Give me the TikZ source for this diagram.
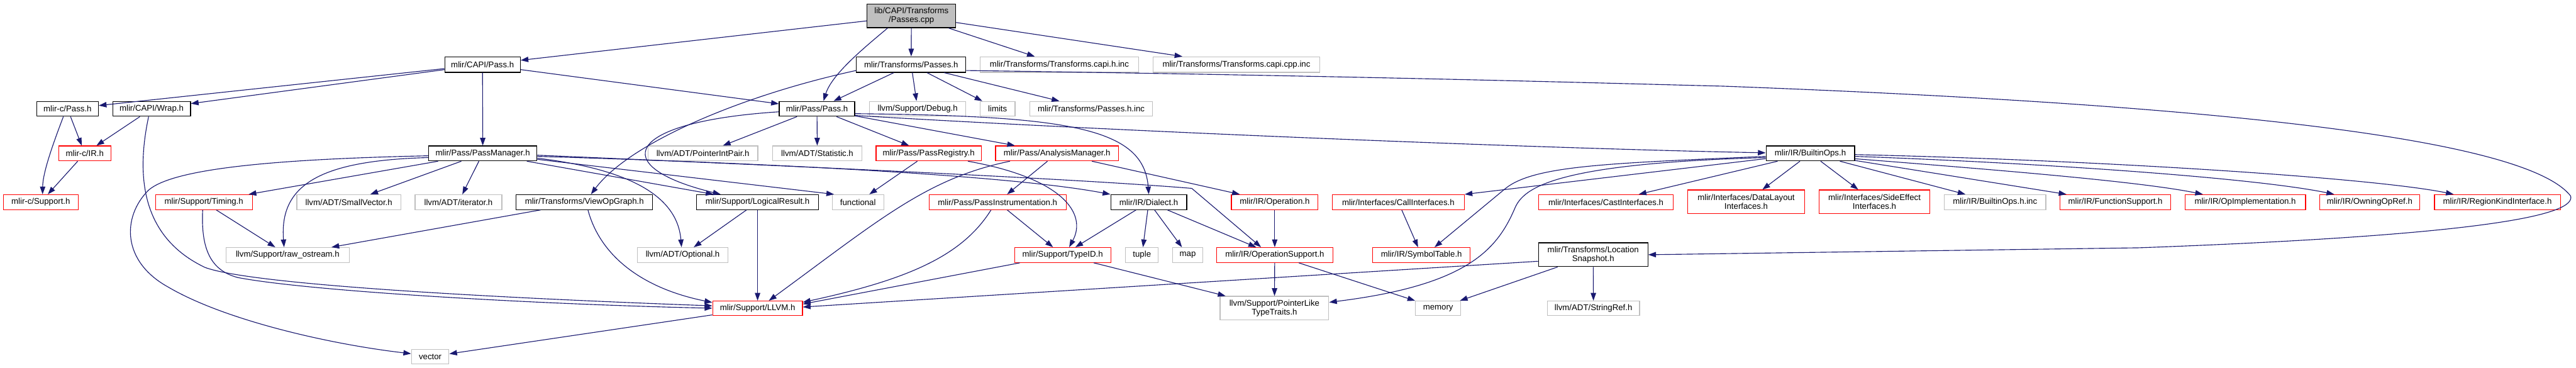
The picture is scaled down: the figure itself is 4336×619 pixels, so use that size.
\documentclass[tikz,border=0pt]{standalone}
\usepackage{fontspec}
\setmainfont{Liberation Sans}
\usetikzlibrary{arrows.meta,calc}
\definecolor{edgeblue}{HTML}{191970}
\definecolor{nodegray}{HTML}{BFBFBF}
\definecolor{nodered}{HTML}{FF0000}
\tikzset{
  box/.style={draw, line width=1.3pt, inner sep=0pt, align=center, anchor=north west, font=\fontsize{14}{15.5}\selectfont, fill=white},
  docbox/.style={box, draw=black},
  rootbox/.style={box, draw=black, fill=nodegray},
  extbox/.style={box, draw=nodegray},
  trunbox/.style={box, draw=nodered},
  dep/.style={draw=edgeblue, line width=1.2pt, -{Triangle[length=13pt,width=9pt]}}
}
\newcommand{\gnode}[7]{\node[#1, minimum width={#5-#3}, minimum height={#6-#4}] (#2) at (#3,#4) {#7};}
\begin{document}
\begin{tikzpicture}[x=1pt,y=-1pt]
\useasboundingbox (0,0) rectangle (4336,619);
% row 1
\gnode{rootbox}{root}{1459}{6}{1608}{46}{lib/CAPI/Transforms\\/Passes.cpp}
% row 2
\gnode{docbox}{capipass}{748}{95}{875}{121}{mlir/CAPI/Pass.h}
\gnode{docbox}{tpasses}{1441}{95}{1625}{121}{mlir/Transforms/Passes.h}
\gnode{extbox}{capihinc}{1649}{95}{1916}{121}{mlir/Transforms/Transforms.capi.h.inc}
\gnode{extbox}{capicppinc}{1940}{95}{2221}{121}{mlir/Transforms/Transforms.capi.cpp.inc}
% row 3
\gnode{docbox}{cpass}{61}{170}{165}{195}{mlir-c/Pass.h}
\gnode{docbox}{wrap}{189}{170}{320}{195}{mlir/CAPI/Wrap.h}
\gnode{docbox}{passh}{1311}{170}{1438}{195}{mlir/Pass/Pass.h}
\gnode{extbox}{debug}{1463}{170}{1625}{195}{llvm/Support/Debug.h}
\gnode{extbox}{limits}{1649}{170}{1708}{195}{limits}
\gnode{extbox}{passesinc}{1733}{170}{1939}{195}{mlir/Transforms/Passes.h.inc}
% row 4
\gnode{trunbox}{cir}{98}{245}{186}{270}{mlir-c/IR.h}
\gnode{docbox}{pm}{721}{245}{903}{270}{mlir/Pass/PassManager.h}
\gnode{extbox}{pip}{1090}{245}{1275}{270}{llvm/ADT/PointerIntPair.h}
\gnode{extbox}{stat}{1300}{245}{1450}{270}{llvm/ADT/Statistic.h}
\gnode{trunbox}{preg}{1474}{245}{1651}{270}{mlir/Pass/PassRegistry.h}
\gnode{trunbox}{am}{1675}{245}{1882}{270}{mlir/Pass/AnalysisManager.h}
\gnode{docbox}{bops}{2972}{245}{3121}{270}{mlir/IR/BuiltinOps.h}
% row 5
\gnode{trunbox}{csupport}{5}{327}{131}{352}{mlir-c/Support.h}
\gnode{trunbox}{timing}{261}{327}{424}{352}{mlir/Support/Timing.h}
\gnode{extbox}{smallvec}{499}{327}{674}{352}{llvm/ADT/SmallVector.h}
\gnode{extbox}{iter}{698}{327}{844}{352}{llvm/ADT/iterator.h}
\gnode{docbox}{viewop}{868}{327}{1098}{352}{mlir/Transforms/ViewOpGraph.h}
\gnode{docbox}{logres}{1172}{327}{1377}{352}{mlir/Support/LogicalResult.h}
\gnode{extbox}{functional}{1400}{327}{1487}{352}{functional}
\gnode{trunbox}{pinstr}{1563}{327}{1794}{352}{mlir/Pass/PassInstrumentation.h}
\gnode{docbox}{dialect}{1869}{327}{1997}{352}{mlir/IR/Dialect.h}
\gnode{trunbox}{operation}{2072}{327}{2218}{352}{mlir/IR/Operation.h}
\gnode{trunbox}{callif}{2242}{327}{2464}{352}{mlir/Interfaces/CallInterfaces.h}
\gnode{trunbox}{castif}{2589}{327}{2816}{352}{mlir/Interfaces/CastInterfaces.h}
\gnode{trunbox}{dlif}{2840}{319}{3037}{359}{mlir/Interfaces/DataLayout\\Interfaces.h}
\gnode{trunbox}{seif}{3061}{319}{3248}{359}{mlir/Interfaces/SideEffect\\Interfaces.h}
\gnode{extbox}{bopsinc}{3272}{327}{3443}{352}{mlir/IR/BuiltinOps.h.inc}
\gnode{trunbox}{funcsup}{3467}{327}{3653}{352}{mlir/IR/FunctionSupport.h}
\gnode{trunbox}{opimpl}{3677}{327}{3880}{352}{mlir/IR/OpImplementation.h}
\gnode{trunbox}{owning}{3904}{327}{4072}{352}{mlir/IR/OwningOpRef.h}
\gnode{trunbox}{regkind}{4097}{327}{4309}{352}{mlir/IR/RegionKindInterface.h}
% row 6
\gnode{extbox}{rawos}{380}{416}{587}{441}{llvm/Support/raw\_ostream.h}
\gnode{extbox}{optional}{1072}{416}{1225}{441}{llvm/ADT/Optional.h}
\gnode{trunbox}{typeid}{1707}{416}{1869}{441}{mlir/Support/TypeID.h}
\gnode{extbox}{tuple}{1894}{416}{1949}{441}{tuple}
\gnode{extbox}{map}{1973}{416}{2024}{441}{map}
\gnode{trunbox}{opsupport}{2047}{416}{2243}{441}{mlir/IR/OperationSupport.h}
\gnode{trunbox}{symtab}{2310}{416}{2474}{441}{mlir/IR/SymbolTable.h}
\gnode{docbox}{locsnap}{2589}{408}{2773}{448}{mlir/Transforms/Location\\Snapshot.h}
% row 7
\gnode{trunbox}{llvmh}{1199}{506}{1350}{530}{mlir/Support/LLVM.h}
\gnode{extbox}{ptrlike}{2053}{498}{2236}{538}{llvm/Support/PointerLike\\TypeTraits.h}
\gnode{extbox}{memory}{2382}{506}{2458}{530}{memory}
\gnode{extbox}{strref}{2604}{506}{2759}{530}{llvm/ADT/StringRef.h}
% row 8
\gnode{extbox}{vector}{692}{587}{755}{612}{vector}

% ---- edges ----
% root
\draw[dep] (root) -- (capipass);
\draw[dep] ([xshift=35pt]root.south west) .. controls (1455,80) and (1400,125) .. ([xshift=11pt]passh.north);
\draw[dep] (root) -- (tpasses);
\draw[dep] (root) -- (capihinc);
\draw[dep] (root) -- (capicppinc);
% capipass
\draw[dep] (capipass) -- (cpass);
\draw[dep] (capipass) -- (wrap);
\draw[dep] (capipass) -- (pm);
\draw[dep] (capipass) -- (passh);
% cpass, wrap, cir
\draw[dep] (cpass) -- (cir);
\draw[dep] ([xshift=-7pt]cpass.south) .. controls (90,240) and (72,290) .. ([xshift=3pt]csupport.north);
\draw[dep] (wrap) -- (cir);
\draw[dep] ([xshift=-5pt]wrap.south) .. controls (228,300) and (240,400) .. (345,450) .. controls (420,478) and (800,500) .. ([yshift=4pt]llvmh.west);
\draw[dep] (cir) -- (csupport);
% pm
\draw[dep] (pm) -- (timing);
\draw[dep] (pm) -- (smallvec);
\draw[dep] (pm) -- (iter);
\draw[dep] ([yshift=-4pt]pm.west) .. controls (450,268) and (290,285) .. (250,320) .. controls (205,365) and (205,440) .. (283,483) .. controls (380,540) and (560,580) .. ([yshift=5pt]vector.west);
\draw[dep] ([yshift=-7pt]pm.west) .. controls (540,270) and (470,310) .. ([xshift=-6pt]rawos.north);
\draw[dep] ([yshift=-8pt]pm.east) .. controls (1060,285) and (1140,330) .. ([xshift=-2pt]optional.north);
\draw[dep] (pm) -- (logres);
\draw[dep] ([yshift=-10pt]pm.east) -- ([xshift=4pt]functional.north west);
\draw[dep] ([yshift=-5pt]pm.east) .. controls (1300,275) and (1700,295) .. (dialect.north west);
\draw[dep] ([yshift=-3pt]pm.east) .. controls (1300,278) and (1800,300) .. (2006,317) -- ([xshift=-23pt]opsupport.north);
% timing
\draw[dep] (timing) -- (rawos);
\draw[dep] ([xshift=-2pt]timing.south) .. controls (338,420) and (355,455) .. (400,467) .. controls (520,490) and (900,512) .. (llvmh.west);
% viewop
\draw[dep] (viewop) -- (rawos);
\draw[dep] ([xshift=6pt]viewop.south) .. controls (1010,430) and (1080,485) .. ([yshift=-3pt]llvmh.north west);
% logres
\draw[dep] (logres) -- (optional);
\draw[dep] (logres) -- (llvmh);
% passh
\draw[dep] (passh) -- (pip);
\draw[dep] (passh) -- (stat);
\draw[dep] (passh) -- (preg);
\draw[dep] (passh) -- (am);
\draw[dep] ([yshift=-5pt]passh.west) .. controls (1050,205) and (1020,280) .. ([xshift=41pt]logres.north west);
\draw[dep] ([yshift=5pt]passh.south east) .. controls (1800,195) and (1925,215) .. (dialect.north);
\draw[dep] ([yshift=2pt]passh.south east) .. controls (1900,222) and (2600,250) .. ([yshift=1pt]bops.west);
% tpasses
\draw[dep] (tpasses) -- (passh);
\draw[dep] ([yshift=-10pt]tpasses.west) .. controls (1250,160) and (1060,240) .. ([xshift=11pt]viewop.north);
\draw[dep] (tpasses) -- (debug);
\draw[dep] (tpasses) -- (limits);
\draw[dep] (tpasses) -- (passesinc);
\draw[dep] ([yshift=-10pt]tpasses.east) .. controls (2300,128) and (2700,140) .. (2900,145) .. controls (3700,175) and (4250,230) .. (4327,330) .. controls (4335,360) and (4200,395) .. (3600,417) -- (locsnap.east);
% preg
\draw[dep] (preg) -- (functional);
\draw[dep] ([xshift=66pt]preg.south) .. controls (1790,300) and (1830,360) .. ([xshift=11pt]typeid.north);
% am
\draw[dep] (am) -- (pinstr);
\draw[dep] (am) -- (operation);
\draw[dep] ([xshift=25pt]am.south west) .. controls (1560,300) and (1480,370) .. ([xshift=19pt]llvmh.north);
% pinstr
\draw[dep] (pinstr) -- (typeid);
\draw[dep] ([xshift=-11pt]pinstr.south) .. controls (1620,430) and (1530,470) .. ([yshift=10pt]llvmh.east);
% typeid
\draw[dep] ([xshift=-72pt]typeid.south) -- ([yshift=7pt]llvmh.east);
\draw[dep] (typeid) -- (ptrlike);
% dialect
\draw[dep] (dialect) -- (typeid);
\draw[dep] (dialect) -- (tuple);
\draw[dep] (dialect) -- (map);
\draw[dep] (dialect) -- (opsupport);
\draw[dep] (operation) -- (opsupport);
\draw[dep] (opsupport) -- (ptrlike);
\draw[dep] (opsupport) -- (memory);
\draw[dep] (callif) -- (symtab);
% locsnap
\draw[dep] ([yshift=-11pt]locsnap.west) -- ([yshift=2pt]llvmh.east);
\draw[dep] (locsnap) -- (memory);
\draw[dep] (locsnap) -- (strref);
% bops
\draw[dep] (bops) -- (callif);
\draw[dep] (bops) -- (castif);
\draw[dep] ([yshift=-5pt]bops.west) .. controls (2700,275) and (2580,279) .. (2533,318) -- ([xshift=22pt]symtab.north);
\draw[dep] ([yshift=-7pt]bops.west) .. controls (2620,275) and (2565,315) .. (2550,350) .. controls (2520,420) and (2470,480) .. ([yshift=10pt]ptrlike.east);
\draw[dep] (bops) -- (dlif);
\draw[dep] (bops) -- (seif);
\draw[dep] (bops) -- (bopsinc);
\draw[dep] (bops) -- (funcsup);
\draw[dep] ([yshift=-9pt]bops.east) .. controls (3350,285) and (3600,305) .. ([xshift=31pt]opimpl.north west);
\draw[dep] ([yshift=-5pt]bops.east) .. controls (3450,275) and (3800,300) .. ([xshift=25pt]owning.north west);
\draw[dep] ([yshift=-2pt]bops.east) .. controls (3550,270) and (4000,300) .. ([xshift=33pt]regkind.north west);
% llvmh
\draw[dep] (llvmh) -- (vector);
\end{tikzpicture}
\end{document}
